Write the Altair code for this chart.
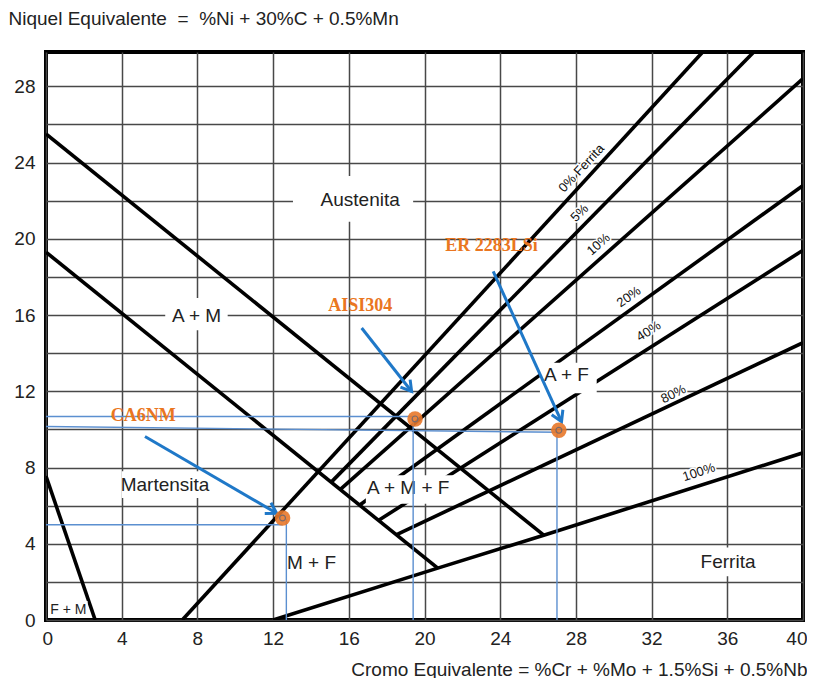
import math
import altair as alt
import pandas as pd

# ---------------- data ----------------
W, H = 757, 568
XMAX, YMAX = 40, 29.8

# boundary lines of the Schaeffler diagram (Cr eq, Ni eq)
a_am_x = [0.0, 26.3]
a_am_y = [25.5, 4.45]
am_m_x = [0.0, 20.7]
am_m_y = [19.3, 2.72]
fm_x = [0.0, 2.6]
fm_y = [7.55, 0.0]
f0_x = [7.2, 34.7]
f0_y = [0.0, 29.8]
f5_x = [15.06, 37.4]
f5_y = [7.22, 29.8]
f10_x = [15.54, 40.0]
f10_y = [6.84, 28.4]
f20_x = [16.56, 40.0]
f20_y = [6.02, 22.8]
f40_x = [17.56, 40.0]
f40_y = [5.22, 19.4]
f80_x = [18.5, 40.0]
f80_y = [4.47, 14.55]
f100_x = [12.0, 20.7, 26.3, 40.0]
f100_y = [0.0, 2.72, 4.45, 8.77]

# region labels
reg_text = ["Austenita", "A + M", "Martensita", "M + F", "F + M", "A + M + F", "A + F", "Ferrita"]
reg_x = [16.6, 7.96, 6.29, 14.03, 1.18, 19.14, 27.5, 36.04]
reg_y = [22.06, 15.93, 7.09, 2.98, 0.53, 6.92, 12.87, 3.06]
reg_size = [19, 19, 19, 19, 14, 19, 19, 19]
# white label boxes (x1, x2, y1, y2)
box_x1 = [13.05, 6.3, 4.0, 12.8, 0.15, 16.9, 26.1, 34.3]
box_x2 = [19.4, 9.6, 8.7, 15.3, 2.2, 21.5, 29.1, 37.8]
box_y1 = [20.9, 15.2, 6.4, 2.2, 0.1, 6.1, 11.9, 2.3]
box_y2 = [23.3, 16.9, 7.8, 3.8, 1.0, 7.6, 13.5, 3.8]

# ferrite percentage labels
fl_text = ["0% Ferrita", "5%", "10%", "20%", "40%", "80%", "100%"]
fl_x = [28.3, 28.2, 29.2, 30.8, 31.85, 33.15, 34.5]
fl_y = [23.7, 21.35, 19.7, 16.95, 15.15, 11.85, 7.75]
fl_angle = [313, 315, 319, 325, 328, 334, 342]

# alloys
alloy_name = ["CA6NM", "AISI304", "ER 2283LSi"]
alloy_x = [12.5, 19.5, 27.1]
alloy_y = [5.35, 10.55, 9.95]
alloy_lx = [5.14, 16.6, 23.54]
alloy_ly = [10.68, 16.45, 19.6]
arr_x1 = [5.23, 16.68, 23.63]
arr_y1 = [9.63, 15.32, 18.29]
arr_x2 = [12.19, 19.32, 27.24]
arr_y2 = [5.6, 11.99, 10.41]
# blue guide segments
g_x1 = [0.0, 12.7, 0.0, 19.4, 0.0, 27.0]
g_y1 = [5.0, 5.3, 10.68, 10.5, 10.15, 9.95]
g_x2 = [12.5, 12.7, 19.5, 19.4, 27.1, 27.0]
g_y2 = [5.0, 0.0, 10.68, 0.0, 9.85, 0.0]

# ---------------- tables ----------------
lines = [("a_am", a_am_x, a_am_y), ("am_m", am_m_x, am_m_y), ("fm", fm_x, fm_y),
         ("f0", f0_x, f0_y), ("f5", f5_x, f5_y), ("f10", f10_x, f10_y),
         ("f20", f20_x, f20_y), ("f40", f40_x, f40_y), ("f80", f80_x, f80_y),
         ("f100", f100_x, f100_y)]
rows = []
for name, xs, ys in lines:
    for i, (x, y) in enumerate(zip(xs, ys)):
        rows.append({"id": name, "o": i, "x": x, "y": y})
df_lines = pd.DataFrame(rows)

df_reg = pd.DataFrame({"t": reg_text, "x": reg_x, "y": reg_y, "s": reg_size})
df_box = pd.DataFrame({"x": box_x1, "x2": box_x2, "y": box_y1, "y2": box_y2})
df_fl = pd.DataFrame({"t": fl_text, "x": fl_x, "y": fl_y, "a": fl_angle})
df_alloy = pd.DataFrame({"t": alloy_name, "x": alloy_x, "y": alloy_y, "lx": alloy_lx, "ly": alloy_ly})
sx, sy = W / XMAX, H / YMAX
ang = [math.degrees(math.atan2((b - a) * sx, (d - c) * sy)) % 360
       for a, b, c, d in zip(arr_x1, arr_x2, arr_y1, arr_y2)]
df_arr = pd.DataFrame({"x": arr_x1, "y": arr_y1, "x2": arr_x2, "y2": arr_y2, "a": ang})
df_guide = pd.DataFrame({"x": g_x1, "y": g_y1, "x2": g_x2, "y2": g_y2})

# ---------------- encodings ----------------
FONT = "Liberation Sans"
NB = "\u00a0"
xscale = alt.Scale(domain=[0, XMAX], nice=False, zero=False)
yscale = alt.Scale(domain=[0, YMAX], nice=False, zero=False)

xaxis = alt.Axis(values=list(range(0, 41, 2)),
                 labelExpr="datum.value % 4 == 0 ? datum.label : ''",
                 labelOverlap=False, labelFlush=True, labelFlushOffset=4,
                 ticks=False, domain=False,
                 grid=True, gridColor="#484848", gridWidth=1.5,
                 labelFont=FONT, labelFontSize=19, labelColor="#222222", labelPadding=9,
                 title="Cromo Equivalente = %Cr + %Mo + 1.5%Si + 0.5%Nb",
                 titleFont=FONT, titleFontSize=19, titleFontWeight="normal", titleColor="#222222",
                 titleX=761, titleY=49, titleAlign="right", titleBaseline="middle")
yaxis = alt.Axis(values=list(range(0, 29, 2)),
                 labelExpr="datum.value % 4 == 0 ? datum.label : ''",
                 labelOverlap=False, labelFlush=False, ticks=False, domain=False,
                 grid=True, gridColor="#484848", gridWidth=1.5,
                 labelFont=FONT, labelFontSize=19, labelColor="#222222", labelPadding=11,
                 title="Niquel Equivalente" + NB + " = " + NB + "%Ni + 30%C + 0.5%Mn",
                 titleFont=FONT, titleFontSize=19, titleFontWeight="normal", titleColor="#222222",
                 titleAngle=0, titleX=-38, titleY=-34, titleAlign="left", titleBaseline="middle")

base_lines = alt.Chart(df_lines).mark_line(color="black", strokeWidth=3.6, clip=True).encode(
    x=alt.X("x:Q", scale=xscale, axis=xaxis),
    y=alt.Y("y:Q", scale=yscale, axis=yaxis),
    detail="id:N", order="o:Q")

boxes = alt.Chart(df_box).mark_rect(fill="white").encode(
    x=alt.X("x:Q", scale=xscale), x2="x2:Q", y=alt.Y("y:Q", scale=yscale), y2="y2:Q")

reg_text_l = alt.Chart(df_reg).mark_text(font=FONT, color="#222222", baseline="middle", align="center").encode(
    x=alt.X("x:Q", scale=xscale), y=alt.Y("y:Q", scale=yscale), text="t:N",
    size=alt.Size("s:Q", scale=None, legend=None))

fl_halo = alt.Chart(df_fl).mark_text(font=FONT, fontSize=13, color="white", stroke="white", strokeWidth=3,
                                     baseline="middle", align="center").encode(
    x=alt.X("x:Q", scale=xscale), y=alt.Y("y:Q", scale=yscale), text="t:N",
    angle=alt.Angle("a:Q", scale=None))
fl_text_l = alt.Chart(df_fl).mark_text(font=FONT, fontSize=13, color="#111111",
                                       baseline="middle", align="center").encode(
    x=alt.X("x:Q", scale=xscale), y=alt.Y("y:Q", scale=yscale), text="t:N",
    angle=alt.Angle("a:Q", scale=None))

guides = alt.Chart(df_guide).mark_rule(color="#5b8fd0", strokeWidth=1.4).encode(
    x=alt.X("x:Q", scale=xscale), y=alt.Y("y:Q", scale=yscale), x2="x2:Q", y2="y2:Q")

arrows = alt.Chart(df_arr).mark_rule(color="#1f78c8", strokeWidth=3).encode(
    x=alt.X("x:Q", scale=xscale), y=alt.Y("y:Q", scale=yscale), x2="x2:Q", y2="y2:Q")
heads = alt.Chart(df_arr).mark_point(shape="M-0.6,1 L0,0 L0.6,1", filled=False, size=420,
                                     stroke="#1f78c8", strokeWidth=3, opacity=1).encode(
    x=alt.X("x2:Q", scale=xscale), y=alt.Y("y2:Q", scale=yscale),
    angle=alt.Angle("a:Q", scale=None))

pts = alt.Chart(df_alloy).mark_point(shape="circle", filled=True, size=240, color="#e8782a", opacity=0.9).encode(
    x=alt.X("x:Q", scale=xscale), y=alt.Y("y:Q", scale=yscale))
pts_in = alt.Chart(df_alloy).mark_point(shape="circle", filled=False, size=34, color="#7a6a6a",
                                        strokeWidth=1.2, opacity=1).encode(
    x=alt.X("x:Q", scale=xscale), y=alt.Y("y:Q", scale=yscale))

alloy_lbl = alt.Chart(df_alloy).mark_text(font="Liberation Serif", fontWeight="bold", fontSize=18,
                                          color="#ea7620", baseline="middle", align="center").encode(
    x=alt.X("lx:Q", scale=xscale), y=alt.Y("ly:Q", scale=yscale), text="t:N")

chart = alt.layer(base_lines, boxes, reg_text_l, fl_halo, fl_text_l, guides, arrows, heads,
                  pts, pts_in, alloy_lbl).properties(
    width=W, height=H,
    autosize=alt.AutoSizeParams(type="none"),
    padding={"left": 38, "top": 44, "right": 4, "bottom": 58},
    background="white",
).configure_view(stroke="black", strokeWidth=4)

chart.save("out.html", embed_options={"renderer": "svg", "actions": False})
